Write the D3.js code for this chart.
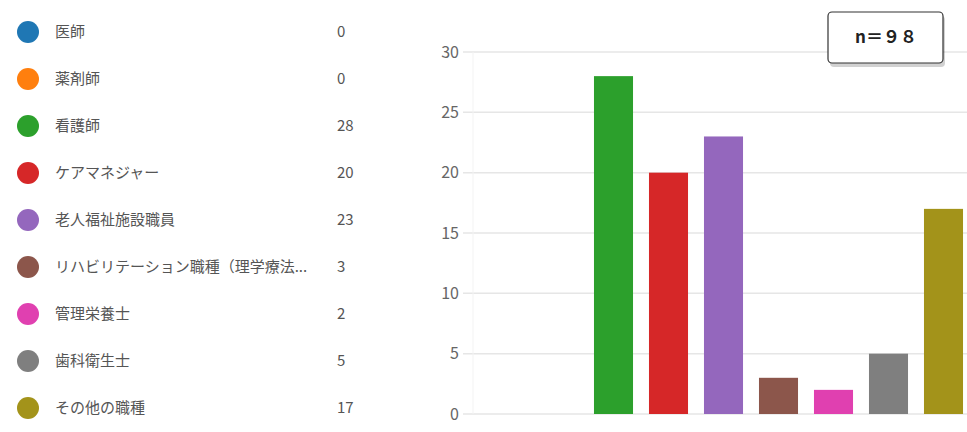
<!DOCTYPE html>
<html><head><meta charset="utf-8">
<script src="https://cdn.jsdelivr.net/npm/d3@7"></script>
<style>
html,body{margin:0;padding:0;background:#fff;}
svg{display:block;font-family:"Noto Sans CJK JP","Noto Sans",sans-serif;}
</style></head>
<body>
<svg id="c" width="967" height="432"></svg>
<script>
const categories = ["医師","薬剤師","看護師","ケアマネジャー","老人福祉施設職員","リハビリテーション職種（理学療法...","管理栄養士","歯科衛生士","その他の職種"];
const values = [0,0,28,20,23,3,2,5,17];
const colors = ["#1f77b4","#ff7f0e","#2ca02c","#d62728","#9467bd","#8c564b","#e040b0","#7f7f7f","#a3931a"];
const yTicks = [0,5,10,15,20,25,30];
const annotation = "n＝９８";

const svg = d3.select("#c");

// Legend
const legY = d3.scalePoint().domain(categories).range([32, 408]);
const leg = svg.append("g");
const rows = leg.selectAll("g").data(categories).join("g")
  .attr("transform", d => `translate(0,${legY(d)})`);
rows.append("circle").attr("cx", 28).attr("cy", 0).attr("r", 11)
  .attr("fill", (d,i) => colors[i]);
rows.append("text").attr("x", 55).attr("y", 0).attr("dy", "0.35em")
  .attr("font-size", 15).attr("fill", "#555").text(d => d);
rows.append("text").attr("x", 337).attr("y", 0).attr("dy", "0.35em")
  .attr("font-size", 15).attr("fill", "#555").text((d,i) => values[i]);

// Chart
const x = d3.scaleBand().domain(categories).range([476, 971]).paddingInner(0.29).paddingOuter(0.145);
const y = d3.scaleLinear().domain([0, 30]).range([414, 52]);

const grid = svg.append("g");
grid.selectAll("line").data(yTicks).join("line")
  .attr("x1", 463).attr("x2", 967)
  .attr("y1", d => y(d)).attr("y2", d => y(d))
  .attr("stroke", "#e6e6e6").attr("stroke-width", 1.5);
svg.append("line").attr("x1", 473).attr("x2", 473).attr("y1", y(30)).attr("y2", y(0))
  .attr("stroke", "#f3f3f3").attr("stroke-width", 1);

const yAxis = svg.append("g").attr("transform", "translate(459,0)")
  .call(d3.axisLeft(y).tickValues(yTicks).tickSize(0).tickPadding(0));
yAxis.select(".domain").remove();
yAxis.selectAll("text").attr("font-size", 16).attr("fill", "#666")
  .attr("font-family", "\"Noto Sans CJK JP\",sans-serif");

svg.append("g").selectAll("rect").data(categories).join("rect")
  .attr("x", d => x(d)).attr("width", x.bandwidth())
  .attr("y", (d,i) => y(values[i])).attr("height", (d,i) => y(0) - y(values[i]))
  .attr("fill", (d,i) => colors[i]);

// Annotation box
const ann = svg.append("g");
ann.append("rect").attr("x", 829).attr("y", 14).attr("width", 115).attr("height", 51).attr("rx", 4)
  .attr("fill", "#000").attr("opacity", 0.18).attr("transform", "translate(1,2)");
ann.append("rect").attr("x", 828).attr("y", 12).attr("width", 115).attr("height", 51).attr("rx", 4)
  .attr("fill", "#fff").attr("stroke", "#333").attr("stroke-width", 1.2);
ann.append("text").attr("x", 886).attr("y", 37).attr("dy", "0.35em").attr("text-anchor", "middle")
  .attr("font-size", 17).attr("font-weight", "bold").attr("fill", "#222").text(annotation);
</script>
</body></html>
